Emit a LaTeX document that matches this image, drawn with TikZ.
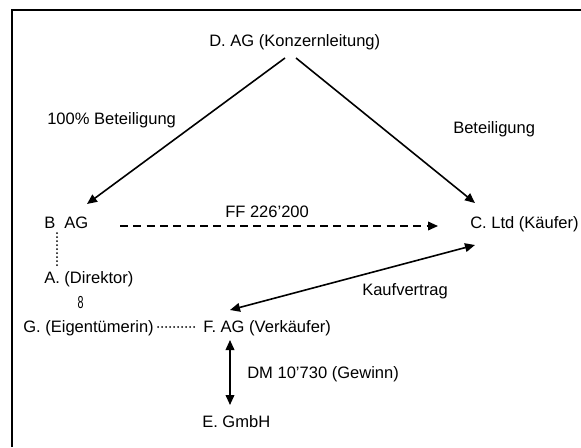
\documentclass[tikz,border=0pt]{standalone}
\usepackage{fontspec}
\setmainfont{Liberation Sans}
\usetikzlibrary{arrows.meta,calc}
\tikzset{
  entity/.style={inner sep=0pt,anchor=base west,font=\fontsize{12.4}{15}\selectfont},
  flow/.style={line width=1.2pt,-{Triangle[length=7.5pt,width=6.5pt]}},
  twoway/.style={line width=1.2pt,{Triangle[length=7.5pt,width=6.5pt]}-{Triangle[length=7.5pt,width=6.5pt]}},
  money/.style={flow,dash pattern=on 6pt off 4pt},
  tie/.style={line width=1.5pt,line cap=round,dash pattern=on 0pt off 3pt}
}
\begin{document}
\begin{tikzpicture}[x=0.75pt,y=-0.75pt]
  \useasboundingbox (0,0) rectangle (581,447);

    % -- Frame along the top and left edge --
    \draw[line width=1.1pt] (12,447) -- (12,10) -- (581,10);

    % -- Companies and persons --
    \node[entity] (konzern)  at (209,46)  {D. AG (Konzernleitung)};
    \node[entity] (bag)      at (44,228)  {B~~AG};
    \node[entity] (ltd)      at (470,228) {C. Ltd (Käufer)};
    \node[entity] (direktor) at (44,283)  {A. (Direktor)};
    \node[entity,anchor=base] (ring) at (80.5,308) {\scalebox{0.65}[1.05]{8}};
    \node[entity] (eigner)   at (23,332)  {G. (Eigentümerin)};
    \node[entity] (fag)      at (203,332) {F. AG (Verkäufer)};
    \node[entity] (gmbh)     at (202,427) {E. GmbH};

    % -- Connector labels --
    \node[entity] (lblvoll) at (47,124)  {100\% Beteiligung};
    \node[entity] (lblteil) at (453,133) {Beteiligung};
    \node[entity] (lblff)   at (225,217) {FF 226’200};
    \node[entity] (lblkauf) at (362,295) {Kaufvertrag};
    \node[entity] (lbldm)   at (247,378) {DM 10’730 (Gewinn)};

    % -- Holdings --
    \draw[flow] ($(konzern.base west)+(76,12)$) -- ($(bag.base west)+(43,-24)$);
    \draw[flow] ($(konzern.base west)+(87,12)$) -- ($(ltd.base west)+(5,-25)$);

    % -- Payments and contract --
    \draw[money] ($(bag.base west)+(76,-2)$) -- ($(ltd.base west)+(-32,-2)$);
    \draw[twoway] ($(fag.base west)+(27,-22)$) -- ($(ltd.base west)+(5,17)$);
    \draw[twoway] ($(fag.base west)+(27,8)$) -- ($(gmbh.base west)+(28,-22)$);

    % -- Personal ties --
    \draw[tie] ($(bag.base west)+(13,5)$) -- ($(direktor.base west)+(13,-16)$);
    \draw[tie] ($(eigner.base east)+(4,-5)$) -- ($(fag.base west)+(-8,-5)$);

\end{tikzpicture}
\end{document}
